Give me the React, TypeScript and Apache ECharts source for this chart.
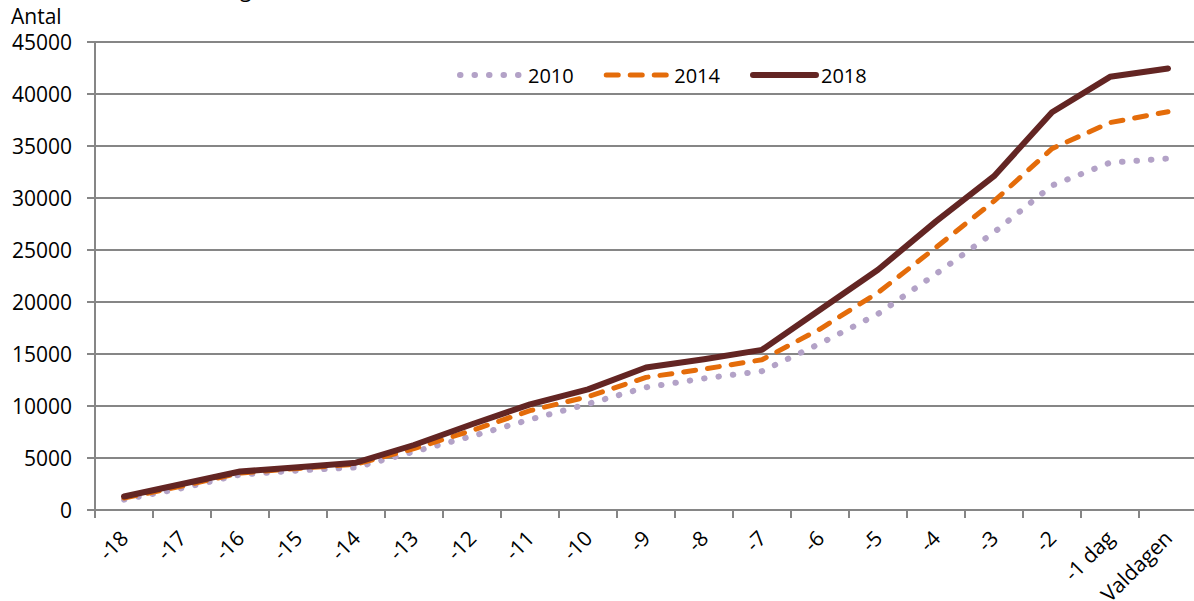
import React, { useEffect, useRef } from "react";
import * as echarts from "echarts";

const categories = ["-18", "-17", "-16", "-15", "-14", "-13", "-12", "-11", "-10", "-9", "-8", "-7", "-6", "-5", "-4", "-3", "-2", "-1 dag", "Valdagen"];
const yTicks = { min: 0, max: 45000, interval: 5000 };
const s2010 = [1000, 2100, 3400, 3800, 4100, 5600, 7100, 8700, 10200, 11800, 12650, 13350, 16000, 18850, 22700, 26700, 31200, 33400, 33800];
const s2014 = [1150, 2300, 3550, 4000, 4400, 5900, 7650, 9550, 10900, 12750, 13550, 14450, 17400, 20900, 25250, 29700, 34750, 37250, 38300];
const s2018 = [1300, 2500, 3700, 4100, 4550, 6250, 8250, 10150, 11600, 13700, 14500, 15400, 19250, 23100, 27750, 32100, 38250, 41650, 42450];
const seriesNames = ["2010", "2014", "2018"];

const FONT = "'Open Sans', sans-serif";
const GRID = "#868686";
const C2010 = "#b3a2c7";
const C2014 = "#e46c0a";
const C2018 = "#632523";

const style2010 = { color: C2010, width: 6, type: [0.5, 14] as number[], cap: "round" as const };
const style2014 = { color: C2014, width: 5, type: [12, 12] as number[], cap: "round" as const };
const style2018 = { color: C2018, width: 6, type: "solid" as const, cap: "round" as const, join: "round" as const };

export default function App() {
  const ref = useRef<HTMLDivElement>(null);
  useEffect(() => {
    if (!ref.current) return;
    const chart = echarts.init(ref.current, undefined, { renderer: "svg" });
    chart.setOption({
      animation: false,
      backgroundColor: "#ffffff",
      textStyle: { fontFamily: FONT },
      grid: { left: 95, top: 42, width: 1102, height: 468, containLabel: false, outerBoundsMode: "none" },
      graphic: [
        { type: "text", left: 11, top: 5, style: { text: "Antal", fontSize: 21, fontFamily: FONT, fill: "#000" } },
        { type: "text", x: 240, y: -1, style: { text: "g", fontSize: 21, fontFamily: FONT, fill: "#000", verticalAlign: "bottom" } },
      ],
      legend: {
        left: 452,
        top: 60,
        itemWidth: 63,
        itemHeight: 14,
        itemGap: 30,
        textStyle: { fontSize: 20, fontFamily: FONT, color: "#000" },
        itemStyle: { opacity: 0 },
        data: [
          { name: seriesNames[0], lineStyle: style2010, itemStyle: { opacity: 0 } },
          { name: seriesNames[1], lineStyle: style2014, itemStyle: { opacity: 0 } },
          { name: seriesNames[2], lineStyle: style2018, itemStyle: { opacity: 0 } },
        ],
      },
      xAxis: {
        type: "category",
        data: categories,
        boundaryGap: true,
        axisLine: { show: true, lineStyle: { color: GRID, width: 2 } },
        axisTick: { show: true, length: 8, lineStyle: { color: GRID, width: 2 } },
        axisLabel: { rotate: 45, interval: 0, margin: 24, fontSize: 21, fontFamily: FONT, color: "#000" },
        splitLine: { show: false },
      },
      yAxis: {
        type: "value",
        min: yTicks.min,
        max: yTicks.max,
        interval: yTicks.interval,
        axisLine: { show: true, lineStyle: { color: GRID, width: 2 } },
        axisTick: { show: true, length: 8, lineStyle: { color: GRID, width: 2 } },
        axisLabel: { margin: 23, fontSize: 21, fontFamily: FONT, color: "#000", formatter: (v: number) => String(v) },
        splitLine: { show: true, lineStyle: { color: GRID, width: 2 } },
      },
      series: [
        { name: seriesNames[0], type: "line", data: s2010, symbol: "none", lineStyle: style2010, itemStyle: { color: C2010 }, z: 2 },
        { name: seriesNames[1], type: "line", data: s2014, symbol: "none", lineStyle: style2014, itemStyle: { color: C2014 }, z: 3 },
        { name: seriesNames[2], type: "line", data: s2018, symbol: "none", lineStyle: style2018, itemStyle: { color: C2018 }, z: 4 },
      ],
    });
    return () => chart.dispose();
  }, []);
  return <div ref={ref} style={{ position: "absolute", left: 0, top: 0, width: 1194, height: 601 }} />;
}
